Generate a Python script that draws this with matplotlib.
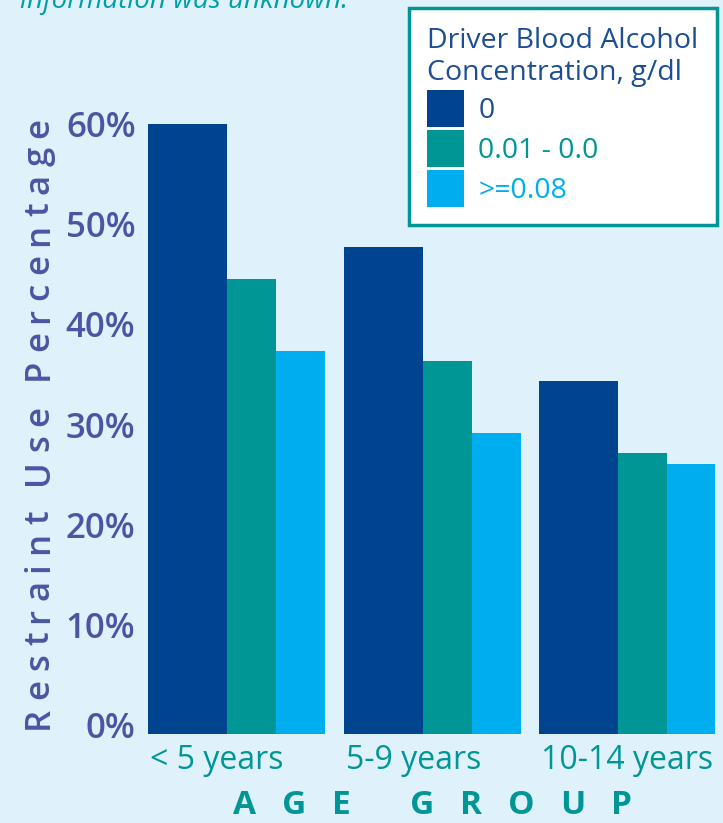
import matplotlib
matplotlib.use("Agg")
import matplotlib.pyplot as plt
from matplotlib.patches import Patch
from matplotlib.transforms import ScaledTranslation
from matplotlib.font_manager import FontProperties, findfont, get_font

# ---------------- data ----------------
age_groups = ["< 5 years", "5-9 years", "10-14 years"]
series_names = ["0", "0.01 - 0.0", ">=0.08"]
bac_zero = [60.8, 48.5, 35.2]
bac_low = [45.4, 37.2, 28.0]
bac_high = [38.2, 30.0, 26.9]
y_ticks = [0, 10, 20, 30, 40, 50, 60]
y_tick_labels = ["0%", "10%", "20%", "30%", "40%", "50%", "60%"]

# ---------------- style ----------------
W, H, DPI = 723, 823, 100
BG = "#dff1fb"
DARK = "#00448f"
TEAL = "#009696"
LIGHT = "#00aeef"
TICKC = "#4a56a3"
TITLEC = "#1d4e94"
FONT = ["Open Sans", "DejaVu Sans"]
plt.rcParams["font.family"] = FONT

fig = plt.figure(figsize=(W / DPI, H / DPI), dpi=DPI, facecolor=BG)

def fx(px):
    return px / W

def fy(py):
    return 1 - py / H

ax_l, ax_r, ax_t, ax_b = 148, 715, 112, 734
ax = fig.add_axes([fx(ax_l), fy(ax_b), (ax_r - ax_l) / W, (ax_b - ax_t) / H])
ax.set_facecolor(BG)

w_dark, w_mid, w_light = 0.404, 0.251, 0.251
xs = list(range(len(age_groups)))
ax.bar([x for x in xs], bac_zero, width=w_dark, align="edge", color=DARK, linewidth=0)
ax.bar([x + w_dark for x in xs], bac_low, width=w_mid, align="edge", color=TEAL, linewidth=0)
ax.bar([x + w_dark + w_mid for x in xs], bac_high, width=w_light, align="edge", color=LIGHT, linewidth=0)

ax.set_xlim(0, 2.9)
ax.set_ylim(0, 62)
for s in ax.spines.values():
    s.set_visible(False)

ax.set_yticks(y_ticks)
ax.set_yticklabels(y_tick_labels, fontsize=25, color=TICKC, weight=600)
ax.tick_params(axis="y", length=0, pad=9)
for lab in ax.get_yticklabels():
    lab.set_transform(lab.get_transform() + ScaledTranslation(0, 8.5 / DPI, fig.dpi_scale_trans))

ax.set_xticks([x + 0.012 for x in xs])
ax.set_xticklabels(age_groups, fontsize=23, color=TEAL, ha="left", weight=500)
ax.tick_params(axis="x", length=0, pad=7)

# ---------------- tracked text helper ----------------
def advances(text, size, weight="normal"):
    fp = FontProperties(family=FONT, size=size, weight=weight)
    font = get_font(findfont(fp))
    font.set_size(size, DPI)
    out = []
    for ch in text:
        g = font.load_char(ord(ch))
        out.append(g.linearHoriAdvance / 65536.0)
    return out

def tracked(text, start, end, fixed, size, color, weight="normal", vertical=False):
    adv = advances(text, size, weight)
    n = len(text)
    track = ((abs(end - start)) - sum(adv)) / (n - 1)
    pos = start
    for ch, a in zip(text, adv):
        if ch != " ":
            if vertical:
                fig.text(fx(fixed), fy(pos), ch, rotation=90, rotation_mode="anchor",
                         ha="left", va="baseline", fontsize=size, color=color, weight=weight)
            else:
                fig.text(fx(pos), fy(fixed), ch, ha="left", va="baseline",
                         fontsize=size, color=color, weight=weight)
        if vertical:
            pos -= a + track
        else:
            pos += a + track

tracked("Restraint Use Percentage", 729, 118, 48, 25, TICKC, weight=600, vertical=True)
tracked("AGE GROUP", 233, 632, 814, 24, TEAL, weight="bold")

# top cut-off note
fig.text(fx(20), fy(8), "information was unknown.", fontsize=20, style="italic",
         color="#00a0a8", ha="left", va="baseline")

# ---------------- legend ----------------
handles = [Patch(facecolor=c, edgecolor="none") for c in (DARK, TEAL, LIGHT)]
leg = fig.legend(handles, series_names, loc="upper right",
                 bbox_to_anchor=(fx(717), fy(8)), bbox_transform=fig.transFigure,
                 title="Driver Blood Alcohol\nConcentration, g/dl", alignment="left",
                 fontsize=20.5, title_fontsize=20.5, frameon=True, fancybox=False,
                 borderpad=0.65, handlelength=1.3, handleheight=1.6, handletextpad=0.5,
                 labelspacing=0.12, borderaxespad=0)
leg.get_frame().set_edgecolor(TEAL)
leg.get_frame().set_linewidth(2.5)
leg.get_frame().set_facecolor("white")
leg.get_frame().set_alpha(1)
leg.get_title().set_color(TITLEC)
for t, c in zip(leg.get_texts(), (TITLEC, TEAL, LIGHT)):
    t.set_color(c)

fig.savefig("out.png", dpi=DPI, facecolor=BG)
